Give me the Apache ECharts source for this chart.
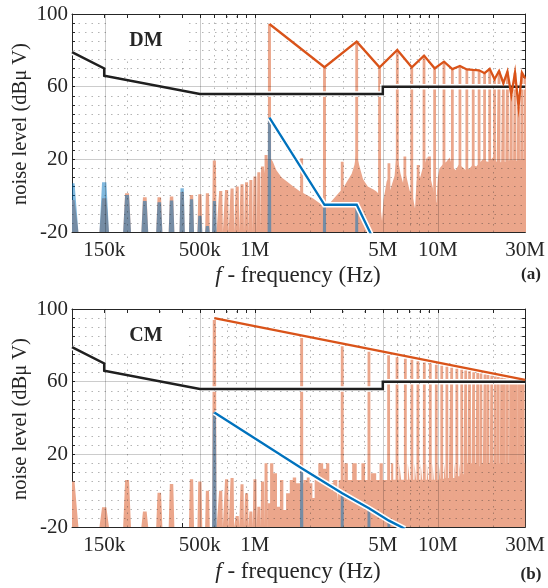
<!DOCTYPE html>
<html><head><meta charset="utf-8">
<script src="https://cdn.jsdelivr.net/npm/echarts@6/dist/echarts.min.js"></script>
<style>html,body{margin:0;padding:0;background:#fff}#c{width:548px;height:588px}</style>
</head><body><div id="c"></div>
<script>
// ---------------- axis ticks ----------------
const xMajorTicks = [150e3, 500e3, 1e6, 5e6, 10e6, 30e6];
const xMajorLabels = ['150k', '500k', '1M', '5M', '10M', '30M'];
const xMinorTicks = [200e3, 300e3, 400e3, 600e3, 700e3, 800e3, 900e3, 2e6, 3e6, 4e6, 6e6, 7e6, 8e6, 9e6, 20e6];
const yMajorTicks = [-20, 20, 60, 100];
const yStep = 5;

// ---------------- limit line (both panels) ----------------
const limitFreq = [100e3, 150e3, 150e3, 500e3, 5e6, 5e6, 30e6];
const limitDb   = [79, 70, 66, 56, 56, 60, 60];

// ---------------- panel (a) DM ----------------
const lowFreqA   = [100e3,150e3,200e3,250e3,300e3,350e3,400e3,450e3,500e3,550e3,600e3,650e3,700e3,750e3,800e3,850e3,900e3,950e3,1000e3,1050e3,1100e3,1150e3];
const lowOrangeA = [-2.4,-1.4,1.3,-0.9,-0.9,-0.5,2.0,0.4,0.8,1.3,19.3,2.6,3.1,3.9,5.0,6.3,7.4,8.6,10.5,12.9,16.0,22.4];
const lowBlueFreqA = [100e3,150e3,200e3,250e3,300e3,350e3,400e3,450e3,500e3,550e3,600e3];
const lowBlueA     = [6.8,7.4,0.4,-2.9,-3.6,-2.7,4.1,-2.0,-11.0,-16.7,-2.9];
const harmFreqA   = [1.2e6,2.4e6,3.6e6,4.8e6,6.0e6,7.2e6,8.4e6,9.6e6,10.8e6,12.0e6,13.2e6,14.4e6,15.6e6,16.8e6,18.0e6,19.2e6,20.4e6,21.6e6,22.8e6,24.0e6,25.2e6,26.4e6,27.6e6,28.8e6,30.0e6];
const harmOrangeA = [94.5,70.7,84.8,70.7,80.2,70.7,77.1,70.1,73.8,69.7,71.4,69.5,69.2,69.0,67.4,69.8,64.1,68.6,61.9,68.3,55.4,67.7,49.0,67.7,64.6];
const midFreqA   = [1.8e6,3.0e6,5.4e6,6.6e6,7.8e6,9.0e6];
const midOrangeA = [20.6,18.7,17.8,21.5,16.9,21.5];
const harmBlueFreqA = [1.2e6,2.4e6,3.6e6,4.8e6];
const harmBlueA     = [43,-5,-5,-31];
const floorFreqA = [1.09e6,1.1e6,1.13e6,1.16e6,1.185e6,1.215e6,1.25e6,1.31e6,1.4e6,1.49e6,1.62e6,1.76e6,1.91e6,2.08e6,2.25e6,2.38e6,2.45e6,2.57e6,2.7e6,2.9e6,3.03e6,3.15e6,3.38e6,3.5e6,3.56e6,3.65e6,3.73e6,3.9e6,4.14e6,4.42e6,4.6e6,4.75e6,4.88e6,4.95e6,5.05e6,5.15e6,5.25e6,5.4e6,5.5e6,5.6e6,5.8e6,5.92e6,6.1e6,6.25e6,6.45e6,6.6e6,6.75e6,7.0e6,7.3e6,7.5e6,7.65e6,7.8e6,8.0e6,8.2e6,8.5e6,8.75e6,8.9e6,9.1e6,9.35e6,9.6e6,9.8e6,10.0e6,10.2e6,10.4e6,10.8e6,11.1e6,11.6e6,12.0e6,12.5e6,13.0e6,13.5e6,14.2e6,14.9e6,15.5e6,16.2e6,16.9e6,17.6e6,18.3e6,19.0e6,19.6e6,20.2e6,20.8e6,21.5e6,22.5e6,23.5e6,24.5e6,25.5e6,26.5e6,27.8e6,29e6,30e6];
const floorA     = [-20,8,14,18,22,22,19,14,10,8,5,2.5,0.5,-1.5,-4,-6,-6,-4,-1.5,2,4,7,12,17,22,20,16,9,5,3.5,2.5,1,-8,-14,-2,3,8,10,3,6,11,22,18,12,7,14,10,3,-1,-7,8,12,10,14,18,21.5,18,10,5,0,-4,10,15,16,18,18.6,21,16,14,17,16,14,15,17,16,18,20,19,18.6,20,21.5,19,17.8,19,18.6,19.5,19.6,19,19.6,19.6,19.6];

// ---------------- panel (b) CM ----------------
const lowFreqB   = [100e3,150e3,200e3,250e3,300e3,350e3,450e3,500e3,550e3,650e3,700e3,750e3,800e3,850e3,900e3,950e3,1000e3,1050e3,1100e3,1150e3];
const lowOrangeB = [5.0,-9.1,5.9,-11.5,-1.1,3.7,6.3,5.0,0.0,0.0,6.3,7.0,-14,3.5,-1.4,-11.5,6.3,-8.8,5.0,15.1];
const harmFreqB   = [0.6e6,1.8e6,3.0e6,4.2e6,5.38e6,5.98e6,6.64e6,7.21e6,7.78e6,8.43e6,9.09e6,9.8e6,10.5e6,11.2e6,11.9e6,12.7e6,13.5e6,14.2e6,14.9e6,15.7e6,16.5e6,17.2e6,18.1e6,18.8e6,19.7e6,20.6e6,21.4e6,22.3e6,23.1e6,24.0e6,25.0e6,25.8e6,26.6e6,27.6e6,28.4e6,29.3e6];
const harmOrangeB = [94,84,79.5,76.5,74.5,73.5,72.6,72,71.3,70.6,70,69.3,68.7,68.2,67.6,67.1,66.6,66.1,65.7,65.2,64.8,64.5,64,63.7,63.3,62.9,62.6,62.2,61.9,61.6,61.2,60.9,60.7,60.3,60.1,60];
const harmBlueFreqB = [0.6e6,1.8e6,3.0e6,4.2e6,5.4e6,6.6e6];
const harmBlueB     = [43,12.3,-1.4,-9.7,-16.5,-21];
const envFreqB = [0.6e6, 30e6];
const envB     = [95, 61];
const floorFreqB = [1.17e6,1.21e6,1.26e6,1.32e6,1.37e6,1.43e6,1.48e6,1.55e6,1.61e6,1.68e6,1.84e6,1.92e6,1.99e6,2.06e6,2.12e6,2.22e6,2.36e6,2.45e6,2.55e6,2.68e6,2.82e6,2.88e6,3.08e6,3.22e6,3.4e6,3.6e6,3.82e6,4.0e6,4.3e6,4.6e6,4.8e6,5.0e6,5.55e6,5.7e6,6.15e6,6.3e6,6.85e6,7.0e6,7.45e6,7.6e6,8.05e6,8.2e6,8.7e6,8.85e6,9.35e6,9.5e6,10.1e6,10.3e6,10.8e6,11.0e6,11.5e6,11.7e6,12.3e6,12.5e6,13.1e6,13.3e6,13.9e6,16.5e6,17e6,20e6,20.5e6,30e6];
const floorB     = [-6.9,15.1,9.6,-8.8,5.9,-10.6,-1.4,5.9,7.3,4.1,5.9,7.3,4.1,-4,5.9,15.1,12,15.1,4.1,5.9,-6,5.9,15.1,5.9,15.1,5.9,15.1,5.9,9.6,5.9,15.1,5.9,15.1,6,15.1,6,15.1,6,15.1,6,15.1,6,15.1,6,15.1,6,15.1,6.5,15.1,7,15.1,7,15.1,8,15.1,9,15.1,13.5,15.1,14.2,15.1,15.1];

// ---------------- helpers ----------------
const L = f => Math.log10(f);
const X0 = L(1e5), X1 = L(3e7);
const FONT = 'Liberation Serif';
const TXT = '#262626';
const ORANGE_FILL = '#EBA68B';
const BLUE_FILL = 'rgba(0,114,189,0.5)';
const RED = '#D95319', BLUE = '#0072BD', BLACK = '#1f1f1f';

function pairs(fs, vs) { return fs.map((f, i) => [L(f), vs[i]]); }
function spikes(fs, vs) {
  const idx = fs.map((f, i) => i).sort((a, b) => fs[a] - fs[b]);
  const pts = [];
  for (const i of idx) {
    const x = L(fs[i]), v = vs[i];
    const k = Math.log10(1 + 5e3 / fs[i]);
    const wt = 0.0075 + 0.3 * k, wb = wt + k;
    pts.push([x - wb, -20], [x - wt, v], [x + wt, v], [x + wb, -20]);
  }
  return pts;
}
function area(data, ax, color, z, step) {
  return { type: 'line', data, xAxisIndex: ax, yAxisIndex: ax, showSymbol: false, symbol: 'none',
    step: step || false, lineStyle: { width: 0, opacity: 0 }, areaStyle: { color, opacity: 1, origin: 'start' },
    z, silent: true, animation: false, clip: true };
}
function line(data, ax, color, width, z) {
  return { type: 'line', data, xAxisIndex: ax, yAxisIndex: ax, showSymbol: false, symbol: 'none',
    lineStyle: { color, width, cap: 'butt', join: 'miter' }, z, silent: true, animation: false, clip: true };
}
function gridLines(ax) {
  const ml = [];
  const solid = { color: 'rgba(0,0,0,0.2)', type: 'solid', width: 1 };
  const dot = { color: 'rgba(40,40,40,0.35)', type: [1.5, 5], width: 1 };
  xMinorTicks.forEach(f => ml.push({ xAxis: L(f), lineStyle: dot }));
  xMajorTicks.forEach(f => { if (f < 3e7) ml.push({ xAxis: L(f), lineStyle: solid }); });
  for (let v = -20 + yStep; v < 100; v += yStep) {
    ml.push({ yAxis: v, lineStyle: yMajorTicks.includes(v) ? solid : dot });
  }
  return { type: 'line', data: [], xAxisIndex: ax, yAxisIndex: ax, z: 2, silent: true,
    markLine: { symbol: ['none', 'none'], silent: true, animation: false, label: { show: false }, data: ml } };
}

const xTickAll = xMinorTicks.concat(xMajorTicks).map(L);
const yTickAll = []; for (let v = -20; v <= 100; v += yStep) yTickAll.push(v);
const lab = { fontFamily: FONT, fontSize: 21, color: TXT };

function xAxes(gi) {
  return [
    { gridIndex: gi, type: 'value', min: X0, max: X1, position: 'bottom',
      axisLine: { onZero: false, lineStyle: { color: TXT, width: 1 } },
      axisTick: { inside: true, length: 4, customValues: xTickAll, lineStyle: { color: TXT } },
      axisLabel: Object.assign({ margin: 8, customValues: xMajorTicks.map(L),
        formatter: v => { const i = xMajorTicks.findIndex(f => Math.abs(L(f) - v) < 1e-6); return i >= 0 ? xMajorLabels[i] : ''; } }, lab),
      splitLine: { show: false } },
    { gridIndex: gi, type: 'value', min: X0, max: X1, position: 'top',
      axisLine: { onZero: false, lineStyle: { color: TXT, width: 1 } },
      axisTick: { inside: true, length: 4, customValues: xTickAll, lineStyle: { color: TXT } },
      axisLabel: { show: false }, splitLine: { show: false } }
  ];
}
function yAxes(gi) {
  return [
    { gridIndex: gi, type: 'value', min: -20, max: 100, position: 'left',
      axisLine: { show: true, onZero: false, lineStyle: { color: TXT, width: 1 } },
      axisTick: { show: true, inside: true, length: 3, customValues: yTickAll, lineStyle: { color: TXT } },
      axisLabel: Object.assign({ margin: 4, customValues: yMajorTicks }, lab),
      splitLine: { show: false } },
    { gridIndex: gi, type: 'value', min: -20, max: 100, position: 'right',
      axisLine: { show: true, onZero: false, lineStyle: { color: TXT, width: 1 } },
      axisTick: { show: true, inside: true, length: 3, customValues: yTickAll, lineStyle: { color: TXT } },
      axisLabel: { show: false }, splitLine: { show: false } }
  ];
}

const A = 0, B = 2;
const limit = pairs(limitFreq, limitDb);
const series = [
  area(pairs(floorFreqA, floorA), A, ORANGE_FILL, 1),
  area(spikes(lowFreqA.concat(harmFreqA, midFreqA), lowOrangeA.concat(harmOrangeA, midOrangeA)), A, ORANGE_FILL, 1),
  gridLines(A),
  area(spikes(lowBlueFreqA.concat(harmBlueFreqA), lowBlueA.concat(harmBlueA)), A, BLUE_FILL, 3),
  line(limit, A, '#fff', 5.5, 4), line(limit, A, BLACK, 2.5, 5),
  line(pairs(harmBlueFreqA, harmBlueA), A, '#fff', 5.5, 6), line(pairs(harmBlueFreqA, harmBlueA), A, BLUE, 2.3, 7),
  line(pairs(harmFreqA, harmOrangeA), A, RED, 2.3, 8),
  area(pairs(floorFreqB, floorB), B, ORANGE_FILL, 1, 'end'),
  area(spikes(lowFreqB.concat(harmFreqB), lowOrangeB.concat(harmOrangeB)), B, ORANGE_FILL, 1),
  gridLines(B),
  area(spikes(harmBlueFreqB, harmBlueB), B, BLUE_FILL, 3),
  line(limit, B, '#fff', 5.5, 4), line(limit, B, BLACK, 2.5, 5),
  line(pairs(harmBlueFreqB, harmBlueB), B, '#fff', 5.5, 6), line(pairs(harmBlueFreqB, harmBlueB), B, BLUE, 2.3, 7),
  line(pairs(envFreqB, envB), B, RED, 2.3, 8)
];

function titleX(y) {
  return { type: 'text', x: 298, y, z: 100, style: { text: '{i|f} - frequency (Hz)', fontFamily: FONT, fontSize: 23, fill: TXT,
    textAlign: 'center', textVerticalAlign: 'middle', rich: { i: { fontStyle: 'italic', fontFamily: FONT, fontSize: 23, fill: TXT } } } };
}
function titleY(y) {
  return { type: 'text', x: 21, y, rotation: Math.PI / 2, z: 100, style: { text: 'noise level (dBμ V)', fontFamily: FONT, fontSize: 20.5, fill: TXT,
    textAlign: 'center', textVerticalAlign: 'middle' } };
}
function box(y0, t) {
  return [
    { type: 'rect', shape: { x: 106, y: y0, width: 80, height: 38 }, style: { fill: '#fff' }, z: 100 },
    { type: 'text', x: 146, y: y0 + 22, z: 101, style: { text: t, fontFamily: FONT, fontSize: 20, fontWeight: 'bold', fill: TXT, textAlign: 'center', textVerticalAlign: 'middle' } }
  ];
}
function tag(y, t) {
  return { type: 'text', x: 531, y, z: 100, style: { text: t, fontFamily: FONT, fontSize: 17, fontWeight: 'bold', fill: TXT, textAlign: 'center', textVerticalAlign: 'middle' } };
}

const chart = echarts.init(document.getElementById('c'), null, { renderer: 'canvas' });
chart.setOption({
  animation: false,
  backgroundColor: '#fff',
  grid: [
    { left: 72, top: 14, width: 454, height: 218, containLabel: false },
    { left: 72, top: 309, width: 454, height: 218, containLabel: false }
  ],
  xAxis: xAxes(0).concat(xAxes(1)),
  yAxis: yAxes(0).concat(yAxes(1)),
  series,
  graphic: [titleX(276), titleX(572), titleY(124), titleY(419), tag(275, '(a)'), tag(575, '(b)')]
    .concat(box(19, 'DM'), box(314, 'CM'))
});
</script>
</body></html>
